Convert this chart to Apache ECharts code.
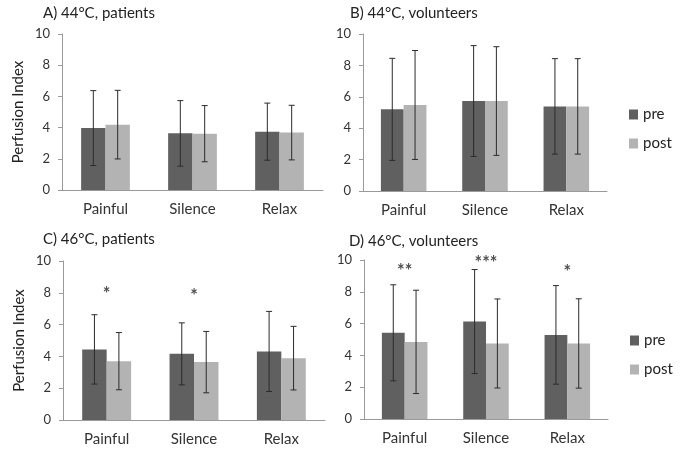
<!DOCTYPE html>
<html>
<head>
<meta charset="utf-8">
<script src="https://cdn.jsdelivr.net/npm/echarts@6/dist/echarts.min.js"></script>
<style>
  html, body { margin: 0; padding: 0; background: #fff; }
  #main { width: 681px; height: 451px; }
</style>
</head>
<body>
<div id="main"></div>
<script>
// categories and panel titles
const categories = ['Painful', 'Silence', 'Relax'];
const panelTitles = ['A) 44°C, patients', 'B) 44°C, volunteers', 'C) 46°C, patients', 'D) 46°C, volunteers'];

// means and SD per panel (pre / post)
const preA = [3.97, 3.63, 3.74];
const preSdA = [2.4, 2.1, 1.83];
const postA = [4.19, 3.61, 3.68];
const postSdA = [2.2, 1.8, 1.75];

const preB = [5.2, 5.73, 5.39];
const preSdB = [3.25, 3.53, 3.04];
const postB = [5.48, 5.73, 5.39];
const postSdB = [3.47, 3.46, 3.04];

const preC = [4.44, 4.16, 4.31];
const preSdC = [2.18, 1.95, 2.52];
const postC = [3.7, 3.64, 3.89];
const postSdC = [1.8, 1.93, 2.0];

const preD = [5.42, 6.13, 5.29];
const preSdD = [3.02, 3.27, 3.1];
const postD = [4.85, 4.75, 4.75];
const postSdD = [3.25, 2.8, 2.81];

// significance marks
const starsC = ['*', '*', ''];
const starYC = [8.1, 8.0, null];
const starsD = ['**', '***', '*'];
const starYD = [9.5, 10.0, 9.4];

const PRE_COLOR = '#606060';
const POST_COLOR = '#b3b3b3';
const GAP = 0.44;
const FONT = 'Lato';

const panels = [
  { pre: preA, preSd: preSdA, post: postA, postSd: postSdA, stars: null, starY: null, name: true },
  { pre: preB, preSd: preSdB, post: postB, postSd: postSdB, stars: null, starY: null, name: false },
  { pre: preC, preSd: preSdC, post: postC, postSd: postSdC, stars: starsC, starY: starYC, name: true },
  { pre: preD, preSd: preSdD, post: postD, postSd: postSdD, stars: starsD, starY: starYD, name: false }
];

const grids = [
  { left: 62, top: 34, width: 261, height: 156 },
  { left: 363, top: 34, width: 244, height: 157 },
  { left: 63, top: 261, width: 262, height: 159 },
  { left: 364, top: 260, width: 244, height: 159 }
];

const titlePos = [
  { left: 43, top: 6 },
  { left: 350, top: 6 },
  { left: 43, top: 232 },
  { left: 349, top: 234 }
];

function errorSeries(gi, means, sds, side) {
  return {
    type: 'custom',
    xAxisIndex: gi,
    yAxisIndex: gi,
    silent: true,
    z: 5,
    data: means.map((m, i) => [i, m - sds[i], m + sds[i]]),
    renderItem: function (params, api) {
      const catW = api.size([1, 0])[0];
      const bw = catW * (1 - GAP) / 2;
      const low = api.coord([api.value(0), api.value(1)]);
      const high = api.coord([api.value(0), api.value(2)]);
      const x = low[0] + side * bw / 2;
      const cap = 3;
      const style = { stroke: '#2b2b2b', lineWidth: 1 };
      return {
        type: 'group',
        children: [
          { type: 'line', shape: { x1: x, y1: high[1], x2: x, y2: low[1] }, style: style },
          { type: 'line', shape: { x1: x - cap, y1: high[1], x2: x + cap, y2: high[1] }, style: style },
          { type: 'line', shape: { x1: x - cap, y1: low[1], x2: x + cap, y2: low[1] }, style: style }
        ]
      };
    }
  };
}

const xAxes = [], yAxes = [], series = [];
panels.forEach((p, gi) => {
  xAxes.push({
    type: 'category',
    gridIndex: gi,
    data: categories,
    axisLine: { lineStyle: { color: '#9a9a9a' } },
    axisTick: { length: 5, lineStyle: { color: '#9a9a9a' } },
    axisLabel: { fontFamily: FONT, fontSize: 15, color: '#333', margin: 12 }
  });
  yAxes.push({
    type: 'value',
    gridIndex: gi,
    min: 0,
    max: 10,
    interval: 2,
    name: p.name ? 'Perfusion Index' : '',
    nameLocation: 'middle',
    nameGap: 36,
    nameTextStyle: { fontFamily: FONT, fontSize: 15, color: '#222' },
    splitLine: { show: false },
    axisLine: { show: true, lineStyle: { color: '#9a9a9a' } },
    axisTick: { show: true, length: 4, lineStyle: { color: '#9a9a9a' } },
    axisLabel: { fontFamily: FONT, fontSize: 13, color: '#333', margin: 12 }
  });
  series.push({
    name: 'pre', type: 'bar', xAxisIndex: gi, yAxisIndex: gi,
    data: p.pre, barGap: '0%', barCategoryGap: (GAP * 100) + '%',
    itemStyle: { color: PRE_COLOR }
  });
  series.push({
    name: 'post', type: 'bar', xAxisIndex: gi, yAxisIndex: gi,
    data: p.post, barGap: '0%', barCategoryGap: (GAP * 100) + '%',
    itemStyle: { color: POST_COLOR }
  });
  series.push(errorSeries(gi, p.pre, p.preSd, -1));
  series.push(errorSeries(gi, p.post, p.postSd, 1));
  if (p.stars) {
    series.push({
      type: 'scatter', xAxisIndex: gi, yAxisIndex: gi,
      symbolSize: 0, clip: false, silent: true,
      data: p.stars.map((s, i) => s ? { value: [i, p.starY[i]], label: { formatter: s } } : null).filter(d => d),
      label: {
        show: true, position: 'inside', offset: [0, 3],
        fontFamily: FONT, fontSize: 18, fontWeight: 'bold', color: '#222'
      }
    });
  }
});

const legends = [
  { top: 102, left: 624 },
  { top: 328, left: 625 }
].map(pos => ({
  data: ['pre', 'post'],
  orient: 'vertical',
  left: pos.left,
  top: pos.top,
  itemWidth: 9,
  itemHeight: 10,
  itemGap: 14,
  icon: 'rect',
  selectedMode: false,
  textStyle: { fontFamily: FONT, fontSize: 15, color: '#222' }
}));

const myChart = echarts.init(document.getElementById('main'));
const option = {
  animation: false,
  backgroundColor: '#fff',
  title: panelTitles.map((t, i) => ({
    text: t,
    left: titlePos[i].left,
    top: titlePos[i].top,
    padding: 0,
    textStyle: { fontFamily: FONT, fontSize: 15, fontWeight: 'normal', color: '#222' }
  })),
  legend: legends,
  grid: grids,
  xAxis: xAxes,
  yAxis: yAxes,
  series: series
};
option && myChart.setOption(option);
</script>
</body>
</html>
